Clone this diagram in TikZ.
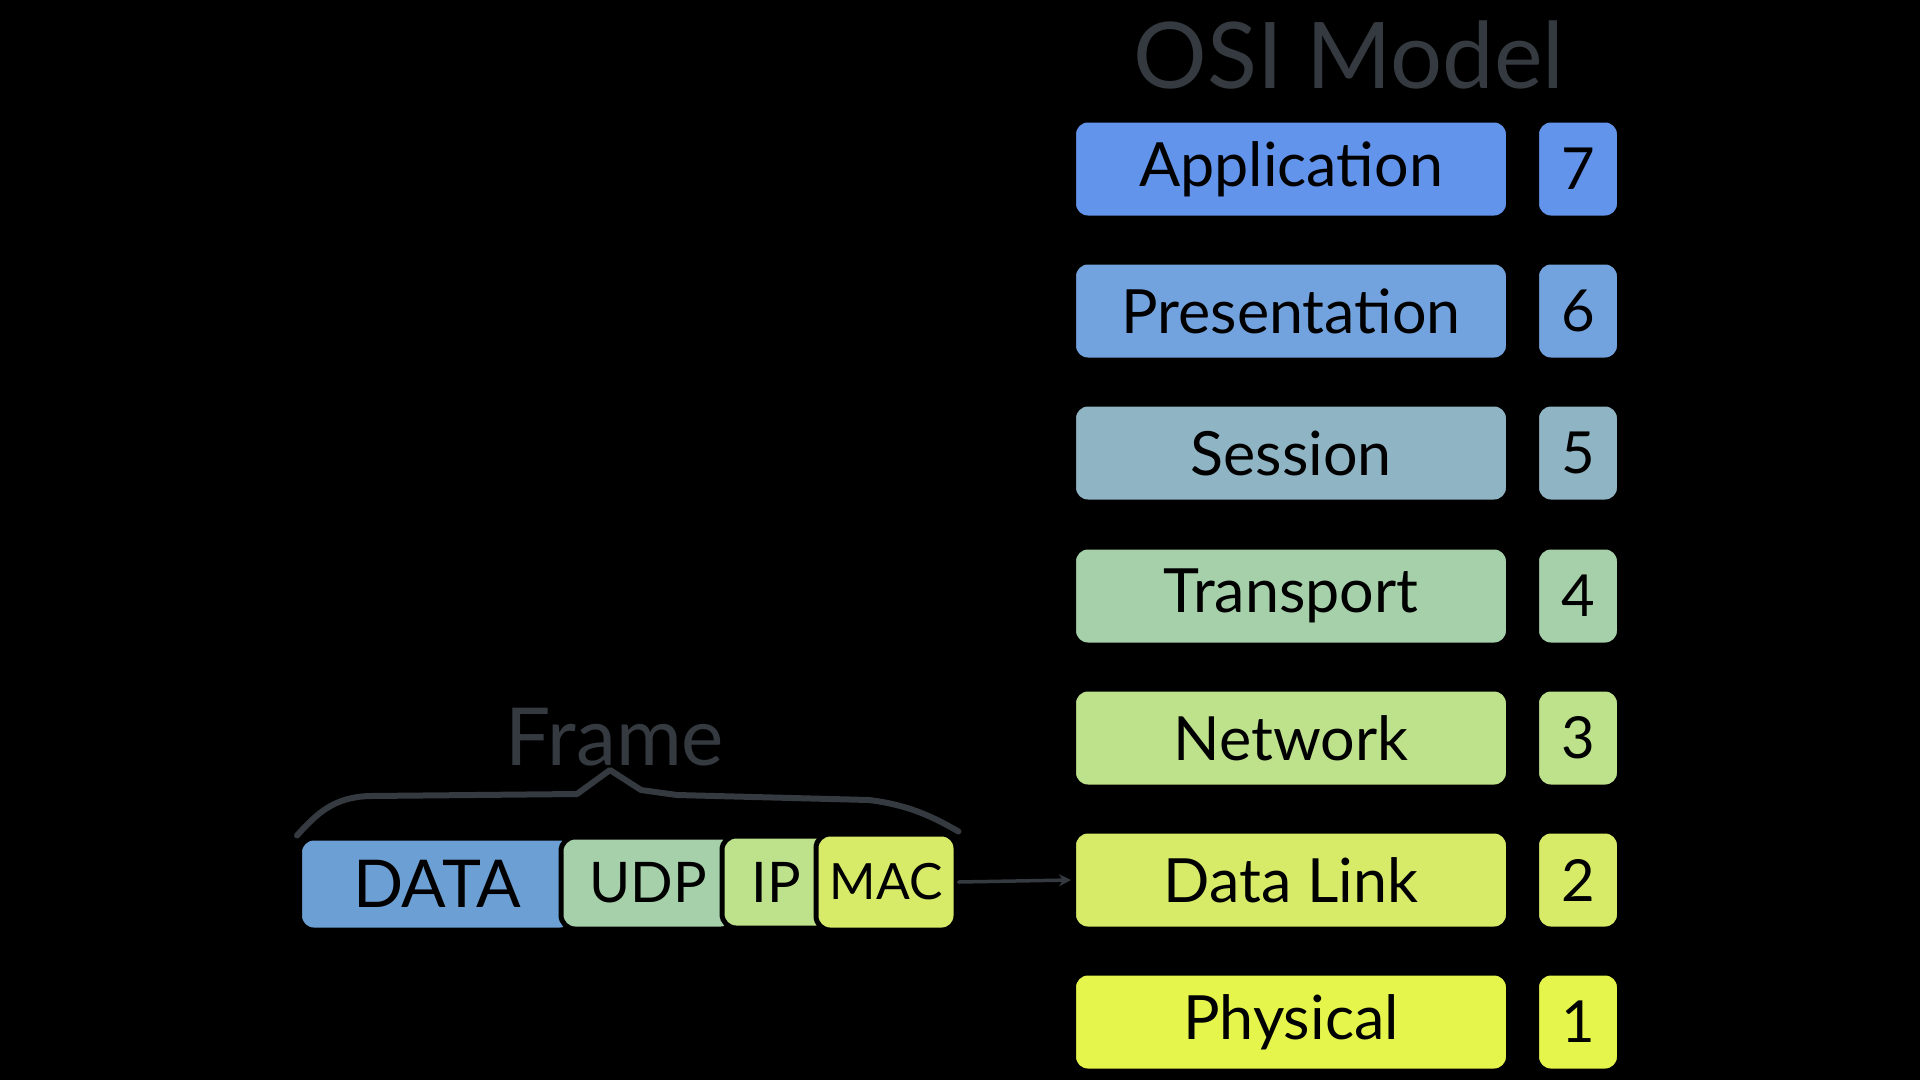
\documentclass[tikz,border=0pt]{standalone}
\usepackage{fontspec}
\setmainfont{Lato}
\usetikzlibrary{arrows.meta}

\definecolor{ink}{RGB}{52,58,64}
\definecolor{appc}{RGB}{99,148,235}
\definecolor{presc}{RGB}{115,163,222}
\definecolor{sessc}{RGB}{143,180,196}
\definecolor{tranc}{RGB}{165,208,170}
\definecolor{netc}{RGB}{190,225,140}
\definecolor{linkc}{RGB}{215,235,105}
\definecolor{physc}{RGB}{230,245,75}
\definecolor{datac}{RGB}{108,160,212}

\begin{document}
\begin{tikzpicture}[x=1pt,y=-1pt,
  boxbase/.style={draw=black, line width=5pt, rounded corners=14pt,
    inner sep=0pt, text=black},
  layerbox/.style={boxbase, minimum width=435pt, minimum height=98pt,
    font=\fontsize{61}{64}\selectfont},
  numbox/.style={boxbase, minimum width=83pt, minimum height=98pt,
    font=\fontsize{58}{60}\selectfont},
  segbox/.style={boxbase, minimum height=92pt},
  heading/.style={text=ink, inner sep=0pt},
  bracket/.style={draw=ink, line width=6pt, line join=round, line cap=round},
  link/.style={draw=ink, line width=3.5pt, line cap=round,
    -{Stealth[length=12pt,width=12pt]}}]

% canvas
\fill[black] (0,0) rectangle (1920,1080);
\useasboundingbox (0,0) rectangle (1920,1080);

% title
\node[heading, anchor=base, font=\fontsize{92}{96}\selectfont] (title)
  at (1349,88) {OSI Model};

% the seven layers
\node[layerbox, fill=appc]  (app)  at (1291,169) {Application};
\node[layerbox, fill=presc] (pres) at (1291,311) {Presentation};
\node[layerbox, fill=sessc] (sess) at (1291,453) {Session};
\node[layerbox, fill=tranc] (tran) at (1291,596) {Transport};
\node[layerbox, fill=netc]  (net)  at (1291,738) {Network};
\node[layerbox, fill=linkc] (dl)   at (1291,880) {Data Link};
\node[layerbox, fill=physc] (phys) at (1291,1022) {Physical};

% layer numbers
\node[numbox, fill=appc]  (n7) at (1578,169) {7};
\node[numbox, fill=presc] (n6) at (1578,311) {6};
\node[numbox, fill=sessc] (n5) at (1578,453) {5};
\node[numbox, fill=tranc] (n4) at (1578,596) {4};
\node[numbox, fill=netc]  (n3) at (1578,738) {3};
\node[numbox, fill=linkc] (n2) at (1578,880) {2};
\node[numbox, fill=physc] (n1) at (1578,1022) {1};

% the frame, headers stacked over the payload
\node[segbox, fill=datac, minimum width=275pt, font=\fontsize{66}{70}\selectfont]
  (data) at (437,884) {DATA\hspace{8pt}};
\node[segbox, fill=tranc, minimum width=174pt, font=\fontsize{56}{60}\selectfont]
  (udp)  at (648,883) {UDP\hspace{12pt}};
\node[segbox, fill=netc,  minimum width=108pt, font=\fontsize{56}{60}\selectfont]
  (ip)   at (776,882) {IP\hspace{14pt}};
\node[segbox, fill=linkc, minimum width=140pt, minimum height=96pt,
  font=\fontsize{50}{54}\selectfont] (mac) at (886,882) {MAC};

% frame label and its bracket
\node[heading, anchor=base, font=\fontsize{80}{84}\selectfont] (frame)
  at (615,765) {Frame};
\draw[bracket] (data.north west) .. controls (318,812) and (335,797) .. (370,796)
  -- (577,794) -- (610,770) -- (641,790) -- (677,795) -- (869,800)
  .. controls (910,805) and (935,818) .. (mac.north east);

% the frame belongs to the data link layer
\draw[link] (mac.east) -- (dl.west);
\end{tikzpicture}
\end{document}
